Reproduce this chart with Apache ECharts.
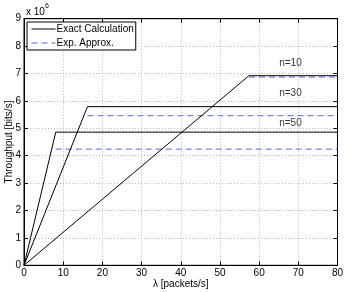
<!DOCTYPE html>
<html>
<head>
<meta charset="utf-8">
<script src="https://cdn.jsdelivr.net/npm/echarts@6/dist/echarts.min.js"></script>
<style>html,body{margin:0;padding:0;background:#fff;}#c{width:346px;height:292px;}</style>
</head>
<body>
<div id="c"></div>
<script>
// Data (throughput in bits/s, lambda in packets/s)
const exactN10 = [[0, 0], [57.4, 6920000], [80, 6920000]];
const exactN30 = [[0, 0], [16.2, 5790000], [80, 5790000]];
const exactN50 = [[0, 0], [8.1, 4860000], [80, 4860000]];
const approxN10 = [[57.4, 6870000], [80, 6870000]];
const approxN30 = [[16.2, 5460000], [80, 5460000]];
const approxN50 = [[8.1, 4240000], [80, 4240000]];
const curveLabels = ['n=10', 'n=30', 'n=50'];
const labelPos = [[68, 7390000], [68, 6280000], [68, 5180000]];
const xTicks = [0, 10, 20, 30, 40, 50, 60, 70, 80];
const yTicks = [0, 1, 2, 3, 4, 5, 6, 7, 8, 9];

const font = 'Liberation Sans, Arial, sans-serif';
const chart = echarts.init(document.getElementById('c'), null, {renderer: 'canvas'});

function exactSeries(d) {
  return {type: 'line', name: 'Exact Calculation', data: d, symbol: 'none', xAxisIndex: 0, yAxisIndex: 0,
    lineStyle: {color: '#000', width: 1}, itemStyle: {color: '#000'}, animation: false, z: 3};
}
function approxSeries(d) {
  return {type: 'line', name: 'Exp. Approx.', data: d, symbol: 'none', xAxisIndex: 0, yAxisIndex: 0,
    lineStyle: {color: '#5468e4', width: 1, type: [6, 4]}, itemStyle: {color: '#5468e4'}, animation: false, z: 2};
}

const gridLine = {show: true, lineStyle: {color: '#b8b8b8', type: [1, 2], width: 1}};
const baseX = {type: 'value', min: 0, max: 80, interval: 10};
const baseY = {type: 'value', min: 0, max: 9000000, interval: 1000000};

chart.setOption({
  animation: false,
  grid: {left: 24, right: 8.5, top: 18.7, bottom: 26.7, show: true, borderColor: '#000', borderWidth: 1,
    containLabel: false, outerBoundsMode: 'none'},
  legend: {
    orient: 'vertical', left: 27, top: 22,
    data: ['Exact Calculation', 'Exp. Approx.'],
    itemWidth: 24, itemHeight: 8, itemGap: 4,
    padding: [2, 2, 2, 4],
    borderColor: '#000', borderWidth: 1, backgroundColor: '#fff',
    itemStyle: {opacity: 0},
    lineStyle: {width: 1},
    textStyle: {fontFamily: font, fontSize: 10, color: '#000', padding: [0, 0, 0, -4]},
    selectedMode: false
  },
  xAxis: [
    Object.assign({}, baseX, {
      position: 'bottom',
      name: 'λ [packets/s]', nameLocation: 'middle', nameGap: 14, nameMoveOverlap: false,
      nameTextStyle: {fontFamily: font, fontSize: 10, color: '#000'},
      axisLine: {show: true, onZero: false, lineStyle: {color: '#000'}},
      axisTick: {show: true, inside: true, length: 4, lineStyle: {color: '#000'}},
      axisLabel: {fontFamily: font, fontSize: 10, color: '#000', margin: 3, formatter: v => xTicks.includes(v) ? String(v) : ''},
      splitLine: gridLine
    }),
    Object.assign({}, baseX, {
      position: 'top',
      axisLine: {show: true, onZero: false, lineStyle: {color: '#000'}},
      axisTick: {show: true, inside: true, length: 4, lineStyle: {color: '#000'}},
      axisLabel: {show: false}, splitLine: {show: false}
    })
  ],
  yAxis: [
    Object.assign({}, baseY, {
      position: 'left',
      name: 'Throughput [bits/s]', nameLocation: 'middle', nameGap: 10, nameRotate: 90, nameMoveOverlap: false,
      nameTextStyle: {fontFamily: font, fontSize: 10, color: '#000'},
      axisLine: {show: true, onZero: false, lineStyle: {color: '#000'}},
      axisTick: {show: true, inside: true, length: 4, lineStyle: {color: '#000'}},
      axisLabel: {fontFamily: font, fontSize: 10, color: '#000', margin: 3,
        formatter: v => { const t = Math.round(v / 1000000); return yTicks.includes(t) ? String(t) : ''; }},
      splitLine: gridLine
    }),
    Object.assign({}, baseY, {
      position: 'right',
      axisLine: {show: true, onZero: false, lineStyle: {color: '#000'}},
      axisTick: {show: true, inside: true, length: 4, lineStyle: {color: '#000'}},
      axisLabel: {show: false}, splitLine: {show: false}
    })
  ],
  graphic: [{
    type: 'text', left: 26, top: 3,
    style: {
      text: '{a|x 10}{b|6}',
      rich: {
        a: {fontFamily: font, fontSize: 10, fill: '#000', verticalAlign: 'bottom', lineHeight: 14},
        b: {fontFamily: font, fontSize: 7, fill: '#000', verticalAlign: 'top', lineHeight: 9, padding: [0, 0, 6, 0]}
      }
    }
  }],
  series: [
    exactSeries(exactN10), exactSeries(exactN30), exactSeries(exactN50),
    approxSeries(approxN10), approxSeries(approxN30), approxSeries(approxN50),
    {
      type: 'scatter', name: 'labels', symbolSize: 0, silent: true,
      data: labelPos.map((p, i) => ({value: p, name: curveLabels[i]})),
      label: {show: true, position: 'inside', formatter: p => p.name, fontFamily: font, fontSize: 10, color: '#000'}
    }
  ]
});
</script>
</body>
</html>
